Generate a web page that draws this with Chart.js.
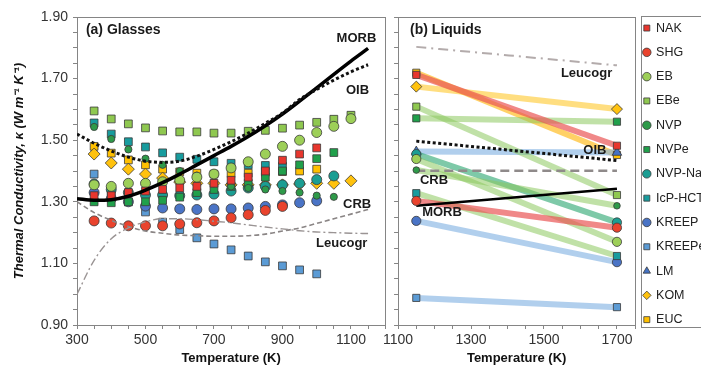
<!DOCTYPE html>
<html>
<head>
<meta charset="utf-8">
<script src="https://cdn.jsdelivr.net/npm/chart.js@4.4.1/dist/chart.umd.min.js"></script>
<style>
body { margin: 0; background: #fff; }
#wrap { position: relative; width: 701px; height: 369px; overflow: hidden; }
canvas { position: absolute; top: 0; }
</style>
</head>
<body>
<div id="wrap">
  <canvas id="glasses" width="392" height="369" style="left:0px"></canvas>
  <canvas id="liquids" width="262" height="369" style="left:380px"></canvas>
  <canvas id="legend" width="220" height="369" style="left:632px"></canvas>
</div>
<script>
const seriesNames = ['NAK', 'SHG', 'EB', 'EBe', 'NVP', 'NVPe', 'NVP-Na', 'IcP-HCT', 'KREEP', 'KREEPe', 'LM', 'KOM', 'EUC']

// (a) glasses, measured every 50 K
const glassTemps = [350, 400, 450, 500, 550, 600, 650, 700, 750, 800, 850, 900, 950, 1000, 1050, 1100]
const nakGlass = [1.32, 1.32, 1.33, 1.335, 1.34, 1.345, 1.35, 1.36, 1.37, 1.38, 1.40, 1.435, 1.455, 1.475, null, null]
const shgGlass = [1.238, 1.231, 1.222, 1.222, 1.222, 1.228, 1.232, 1.238, 1.248, 1.258, 1.272, 1.285, null, null, null, null]
const ebGlass = [1.355, 1.35, 1.36, 1.36, 1.365, 1.37, 1.38, 1.39, 1.41, 1.43, 1.455, 1.48, 1.50, 1.525, 1.545, 1.57]
const ebeGlass = [1.595, 1.569, 1.553, 1.54, 1.53, 1.527, 1.527, 1.523, 1.523, 1.529, 1.532, 1.539, 1.549, 1.558, 1.568, 1.581]
const nvpGlass = [1.543, 1.504, 1.47, 1.44, 1.42, 1.40, 1.385, 1.36, 1.35, 1.345, 1.34, 1.335, 1.33, 1.32, 1.316, null]
const nvpeGlass = [1.30, 1.297, 1.30, 1.30, 1.305, 1.315, 1.33, 1.34, 1.35, 1.36, 1.38, 1.40, 1.42, 1.44, 1.46, null]
const nvpNaGlass = [1.358, 1.34, 1.33, 1.322, 1.322, 1.32, 1.322, 1.325, 1.335, 1.345, 1.35, 1.355, 1.36, 1.372, 1.384, null]
const icpGlass = [1.556, 1.52, 1.495, 1.478, 1.459, 1.445, 1.438, 1.43, 1.425, 1.42, 1.418, 1.415, null, null, null, null]
const kreepGlass = [1.33, 1.31, 1.30, 1.286, 1.28, 1.277, 1.275, 1.277, 1.277, 1.28, 1.285, 1.29, 1.297, 1.303, null, null]
const kreepeGlass = [1.39, 1.33, 1.30, 1.267, 1.234, 1.21, 1.183, 1.163, 1.144, 1.124, 1.105, 1.092, 1.079, 1.066, null, null]
const komGlass = [1.455, 1.426, 1.406, 1.39, 1.377, 1.364, 1.36, 1.36, 1.355, 1.355, 1.355, 1.355, 1.358, 1.36, 1.36, 1.368]
const eucGlass = [1.48, 1.458, 1.436, 1.42, 1.406, 1.397, 1.393, 1.39, 1.392, 1.393, 1.396, 1.398, 1.40, 1.406, null, null]

// reference rock curves in (a)
const curveTemps = [300, 350, 400, 450, 500, 550, 600, 650, 700, 750, 800, 850, 900, 950, 1000, 1050, 1100, 1150]
const morbCurve = [1.31, 1.305, 1.307, 1.318, 1.338, 1.362, 1.39, 1.42, 1.45, 1.48, 1.512, 1.547, 1.585, 1.627, 1.67, 1.714, 1.757, 1.798]
const oibCurve = [1.52, 1.49, 1.465, 1.445, 1.432, 1.428, 1.432, 1.448, 1.47, 1.495, 1.523, 1.555, 1.588, 1.632, 1.665, 1.695, 1.722, 1.745]
const crbCurve = [1.30, 1.265, 1.24, 1.22, 1.205, 1.198, 1.192, 1.19, 1.188, 1.188, 1.19, 1.195, 1.205, 1.215, 1.23, 1.245, 1.26, 1.275]
const leucoCurve = [1.0, 1.11, 1.18, 1.215, 1.235, 1.245, 1.245, 1.242, 1.237, 1.232, 1.225, 1.218, 1.212, 1.206, 1.202, 1.2, 1.198, 1.197]

// (b) liquids, two end temperatures
const liquidTemps = [1150, 1700]
const nakLiquid = [1.712, 1.482]
const shgLiquid = [1.303, 1.216]
const ebLiquid = [1.439, 1.17]
const ebeLiquid = [1.609, 1.322]
const nvpLiquid = [1.403, 1.287]
const nvpeLiquid = [1.571, 1.56]
const nvpNaLiquid = [1.455, 1.233]
const icpLiquid = [1.328, 1.124]
const kreepLiquid = [1.238, 1.104]
const kreepeLiquid = [0.988, 0.958]
const lmLiquid = [1.463, 1.46]
const komLiquid = [1.674, 1.601]
const eucLiquid = [1.719, 1.452]

const morbLiquid = [1.287, 1.342]
const oibLiquid = [1.497, 1.434]
const crbLiquid = [1.401, 1.401]
const leucoLiquid = [1.803, 1.743]

const glassValues = [nakGlass, shgGlass, ebGlass, ebeGlass, nvpGlass, nvpeGlass, nvpNaGlass, icpGlass, kreepGlass, kreepeGlass, null, komGlass, eucGlass]
const liquidValues = [nakLiquid, shgLiquid, ebLiquid, ebeLiquid, nvpLiquid, nvpeLiquid, nvpNaLiquid, icpLiquid, kreepLiquid, kreepeLiquid, lmLiquid, komLiquid, eucLiquid]

// marker look per series
const markers = {
    'NAK': { fill: '#e8362e', shape: 'rect', r: 5.5, line: 'rgba(234,86,86,0.7)' },
    'SHG': { fill: '#e9432d', shape: 'circle', r: 5, line: 'rgba(234,86,86,0.7)' },
    'EB': { fill: '#9dcf58', shape: 'circle', r: 5, line: 'rgba(140,200,95,0.55)' },
    'EBe': { fill: '#8fc850', shape: 'rect', r: 5.5, line: 'rgba(140,200,95,0.55)' },
    'NVP': { fill: '#2e9a49', shape: 'circle', r: 3.6, line: 'rgba(140,200,95,0.55)' },
    'NVPe': { fill: '#20a04b', shape: 'rect', r: 5.5, line: 'rgba(140,200,95,0.55)' },
    'NVP-Na': { fill: '#1b9e93', shape: 'circle', r: 5, line: 'rgba(40,165,110,0.6)' },
    'IcP-HCT': { fill: '#189c9e', shape: 'rect', r: 5.5, line: 'rgba(140,200,95,0.55)' },
    'KREEP': { fill: '#4a74c6', shape: 'circle', r: 5, line: 'rgba(125,175,225,0.6)' },
    'KREEPe': { fill: '#5b9bd5', shape: 'rect', r: 5.5, line: 'rgba(125,175,225,0.6)' },
    'LM': { fill: '#4472c4', shape: 'triangle', r: 6, line: 'rgba(125,175,225,0.6)' },
    'KOM': { fill: '#ffc20e', shape: 'rectRot', r: 6, line: 'rgba(255,205,60,0.65)' },
    'EUC': { fill: '#ffc000', shape: 'rect', r: 5.5, line: 'rgba(255,185,20,0.65)' }
}

const fontFamily = '"Liberation Sans", Arial, sans-serif'
Chart.defaults.font.family = fontFamily
Chart.defaults.color = '#333'
Chart.defaults.animation = false

function toPoints(xs, ys) {
    return xs.map((x, i) => ({ x: x, y: ys[i] })).filter(p => p.y !== null)
}

const framePlugin = {
    id: 'frame',
    beforeDatasetsDraw(chart) {
        const { ctx, chartArea: a } = chart
        ctx.save()
        ctx.strokeStyle = '#858585'
        ctx.lineWidth = 1
        ctx.strokeRect(Math.round(a.left) + 0.5, Math.round(a.top) + 0.5, Math.round(a.right - a.left), Math.round(a.bottom - a.top))
        ctx.restore()
    }
}

function labelPlugin(items) {
    return {
        id: 'curveLabels',
        afterDatasetsDraw(chart) {
            const { ctx, scales } = chart
            ctx.save()
            ctx.fillStyle = '#1a1a1a'
            ctx.textBaseline = 'middle'
            items.forEach(it => {
                ctx.font = 'bold ' + it.size + 'px ' + fontFamily
                ctx.textAlign = it.align
                ctx.fillText(it.text, scales.x.getPixelForValue(it.at[0]), scales.y.getPixelForValue(it.at[1]))
            })
            ctx.restore()
        }
    }
}

function yAxis(width, showLabels, withTitle) {
    return {
        type: 'linear',
        min: 0.9,
        max: 1.9,
        afterFit: s => { s.width = width },
        border: { display: false },
        grid: { drawOnChartArea: false, drawTicks: true, tickLength: 4, color: '#858585' },
        ticks: {
            stepSize: 0.05,
            autoSkip: false,
            padding: 5,
            color: '#333',
            font: { size: 14 },
            callback: v => {
                if (!showLabels) return ''
                const k = Math.round((v - 0.9) * 100)
                return k % 20 === 0 ? v.toFixed(2) : ''
            }
        },
        title: {
            display: withTitle,
            text: 'Thermal Conductivity, κ (W m⁻¹ K⁻¹)',
            color: '#111',
            font: { size: 13, weight: 'bold', style: 'italic' },
            padding: { top: 12, bottom: 0 }
        }
    }
}

function xAxis(min, max) {
    return {
        type: 'linear',
        min: min,
        max: max,
        afterFit: s => { s.height = 44 },
        border: { display: false },
        grid: { drawOnChartArea: false, drawTicks: true, tickLength: 4, color: '#858585' },
        ticks: {
            stepSize: 50,
            autoSkip: false,
            maxRotation: 0,
            padding: 3,
            color: '#333',
            font: { size: 14 },
            callback: v => (v % 200 === 100 ? v : '')
        },
        title: {
            display: true,
            text: 'Temperature (K)',
            color: '#111',
            font: { size: 13, weight: 'bold' },
            padding: { top: 0, bottom: 3 }
        }
    }
}

function markerSet(name, points, order) {
    const m = markers[name]
    return {
        label: name,
        data: points,
        showLine: false,
        pointStyle: m.shape,
        pointRadius: m.r,
        pointHoverRadius: m.r,
        backgroundColor: m.fill,
        borderColor: '#3a3a3a',
        borderWidth: 0.8,
        order: order
    }
}

function curveSet(label, xs, ys, color, width, dash) {
    return {
        label: label,
        data: toPoints(xs, ys),
        showLine: true,
        pointRadius: 0,
        borderColor: color,
        borderWidth: width,
        borderDash: dash,
        cubicInterpolationMode: 'monotone',
        order: 0
    }
}

// ---- (a) Glasses
const glassSets = []
seriesNames.forEach((name, i) => {
    if (glassValues[i]) glassSets.push(markerSet(name, toPoints(glassTemps, glassValues[i]), 1))
})
glassSets.push(curveSet('Leucogr', curveTemps, leucoCurve, '#9a9494', 1.4, [8, 3, 2, 3]))
glassSets.push(curveSet('CRB', curveTemps, crbCurve, '#8a8585', 1.6, [5, 3]))
glassSets.push(curveSet('OIB', curveTemps, oibCurve, '#111', 3, [3, 2.5]))
glassSets.push(curveSet('MORB', curveTemps, morbCurve, '#000', 3.5, []))

new Chart(document.getElementById('glasses'), {
    type: 'scatter',
    data: { datasets: glassSets },
    options: {
        responsive: false,
        layout: { padding: { top: 17, right: 6, bottom: 0, left: 0 } },
        scales: { x: xAxis(300, 1200), y: yAxis(77, true, true) },
        plugins: { legend: { display: false }, tooltip: { enabled: false } }
    },
    plugins: [framePlugin, labelPlugin([
        { text: '(a) Glasses', at: [326, 1.858], align: 'left', size: 14 },
        { text: 'MORB', at: [1174, 1.832], align: 'right', size: 13 },
        { text: 'OIB', at: [1153, 1.663], align: 'right', size: 13 },
        { text: 'CRB', at: [1159, 1.29], align: 'right', size: 13 },
        { text: 'Leucogr', at: [1148, 1.166], align: 'right', size: 13 }
    ])]
})

// ---- (b) Liquids
const liquidSets = []
seriesNames.forEach((name, i) => {
    liquidSets.push({
        label: name + ' melt',
        data: toPoints(liquidTemps, liquidValues[i]),
        showLine: true,
        pointRadius: 0,
        borderColor: markers[name].line,
        borderWidth: 6,
        order: 2
    })
})
liquidSets.push(curveSet('Leucogr', liquidTemps, leucoLiquid, '#b3abab', 2, [10, 5, 2, 5]))
liquidSets.push(curveSet('CRB', liquidTemps, crbLiquid, '#8f8a8a', 2.5, [9, 5]))
liquidSets.push(curveSet('OIB', liquidTemps, oibLiquid, '#111', 3, [3, 2.5]))
liquidSets.push(curveSet('MORB', liquidTemps, morbLiquid, '#000', 2.5, []))
seriesNames.forEach((name, i) => {
    const s = markerSet(name, toPoints(liquidTemps, liquidValues[i]), -1)
    s.pointRadius = markers[name].r * 0.92
    liquidSets.push(s)
})

new Chart(document.getElementById('liquids'), {
    type: 'scatter',
    data: { datasets: liquidSets },
    options: {
        responsive: false,
        layout: { padding: { top: 17, right: 6, bottom: 0, left: 0 } },
        scales: { x: xAxis(1100, 1750), y: yAxis(18, false, false) },
        plugins: { legend: { display: false }, tooltip: { enabled: false } }
    },
    plugins: [framePlugin, labelPlugin([
        { text: '(b) Liquids', at: [1133, 1.858], align: 'left', size: 14 },
        { text: 'Leucogr', at: [1687, 1.718], align: 'right', size: 13 },
        { text: 'OIB', at: [1671, 1.468], align: 'right', size: 13 },
        { text: 'CRB', at: [1160, 1.368], align: 'left', size: 13 },
        { text: 'MORB', at: [1166, 1.264], align: 'left', size: 13 }
    ])]
})

// ---- legend panel
const legendBox = {
    id: 'legendBox',
    afterDraw(chart) {
        const ctx = chart.ctx
        ctx.save()
        ctx.strokeStyle = '#858585'
        ctx.lineWidth = 1
        ctx.strokeRect(9.5, 16.5, 100, 311)
        ctx.restore()
    }
}

new Chart(document.getElementById('legend'), {
    type: 'scatter',
    data: { datasets: seriesNames.map(name => markerSet(name, [], 0)) },
    options: {
        responsive: false,
        layout: { padding: { top: 10, left: 0, right: 0, bottom: 0 } },
        scales: { x: { display: false }, y: { display: false } },
        plugins: {
            tooltip: { enabled: false },
            legend: {
                position: 'left',
                align: 'start',
                maxWidth: 200,
                labels: {
                    usePointStyle: true,
                    boxWidth: 6,
                    boxHeight: 6,
                    padding: 11.8,
                    color: '#222',
                    font: { size: 12.5 }
                }
            }
        }
    },
    plugins: [legendBox]
})
</script>
</body>
</html>
